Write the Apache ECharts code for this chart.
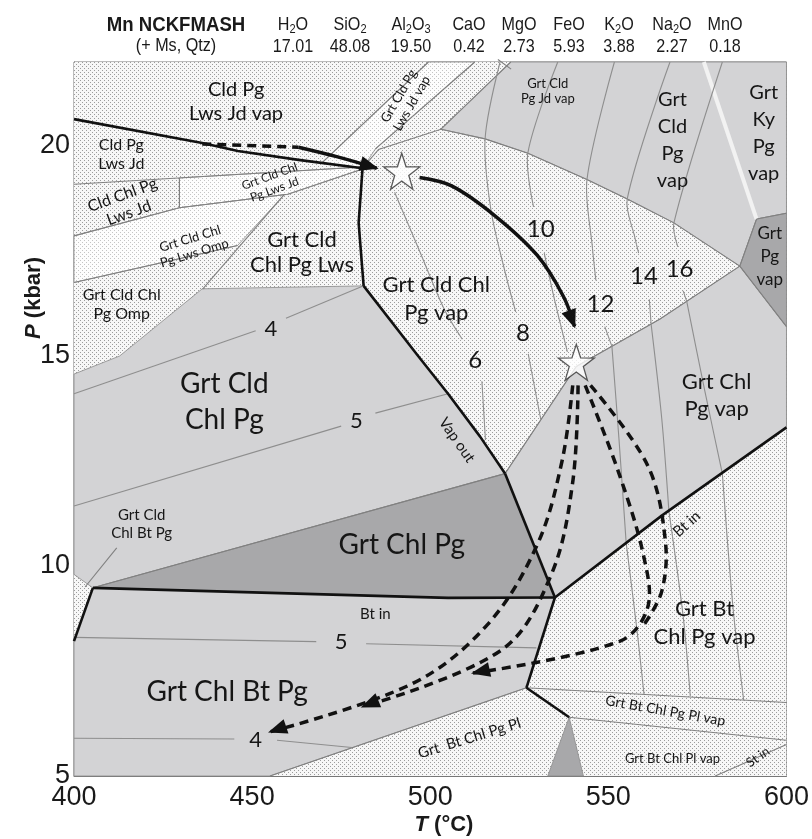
<!DOCTYPE html>
<html>
<head>
<meta charset="utf-8">
<script src="https://cdn.jsdelivr.net/npm/echarts/dist/echarts.min.js"></script>
<style>
  html, body { margin: 0; padding: 0; background: #fff; }
  #chart { width: 812px; height: 839px; }
</style>
</head>
<body>
<div id="chart"></div>
<script>
// bulk composition (wt%)
const oxides = ['H2O', 'SiO2', 'Al2O3', 'CaO', 'MgO', 'FeO', 'K2O', 'Na2O', 'MnO'];
const wtPct = ['17.01', '48.08', '19.50', '0.42', '2.73', '5.93', '3.88', '2.27', '0.18'];

// fields, vertices as [T (°C), P (kbar)]
const plotBox = [[400, 5], [600, 5], [600, 22], [400, 22]];
const bandLwsJdVap = [[469.6, 19.6], [499.5, 22], [512.5, 22], [484.6, 19.93], [481, 19.47]];
const bandGrtLwsJd = [[429.6, 19.24], [480.8, 19.5], [481, 19.45], [460, 18.85], [429.6, 18.53]];
const bandGrtLwsOmp = [[400, 17.86], [429.6, 18.53], [459, 18.84], [445.9, 17.63], [400, 16.75]];
const fGrtCldChlPg = [[400, 14.57], [412.8, 15.0], [436, 16.6], [481.3, 16.67], [496.6, 15.0], [505, 14.1],
  [514, 13.08], [521, 12.2], [405.3, 9.48], [400, 9.8]];
const fGrtChlBtPg = [[400, 5], [400, 8.21], [405.3, 9.48], [505, 9.24], [535, 9.25], [527, 7.1], [455, 5]];
const fGrtChlPgVap = [[521, 12.2], [541, 14.75], [564.5, 15.88], [586.9, 17.14], [600, 15.7], [600, 13.3],
  [565, 11.2], [535, 9.25]];
const fGrtCldPgVap = [[503, 20.4], [515.4, 20.17], [527.4, 19.83], [544, 19.2], [555.3, 18.74], [568.4, 18.17],
  [586.9, 17.14], [591.6, 18.26], [600, 18.4], [600, 22], [522.6, 22]];
const fGrtChlPg = [[405.3, 9.48], [521, 12.2], [535, 9.25], [505, 9.24]];
const fGrtPgVap = [[586.9, 17.14], [591.6, 18.26], [600, 18.4], [600, 15.7]];
const fWedge = [[533, 5], [539, 6.4], [543, 5]];

// thin reaction lines
const lnA = [[400, 19.09], [480.8, 19.5]];
const lnC = [[400, 17.86], [429.6, 18.53], [460, 18.85], [481, 19.45]];
const lnShort = [[429.6, 18.53], [429.6, 19.24]];
const lnD = [[400, 16.75], [445.9, 17.63]];
const lnE = [[436.1, 16.59], [459, 18.84]];
const lnBandL = [[469.6, 19.6], [499.5, 22]];
const lnBandR = [[484.6, 19.93], [512.5, 22]];
const lnStrip = [[503, 20.4], [522.6, 22]];
const lnArc = [[481, 19.47], [485.5, 19.92], [503, 20.4], [515.4, 20.17], [527.4, 19.83], [544, 19.2],
  [555.3, 18.74], [568.4, 18.17], [586.9, 17.14]];
const lnKyLow = [[591.6, 18.26], [586.9, 17.14]];
const lnChlVap = [[521, 12.2], [541, 14.75], [564.5, 15.88], [586.9, 17.14]];
const lnPgVap = [[586.9, 17.14], [600, 15.7]];
const lnPgVapTop = [[591.6, 18.26], [600, 18.4]];
const lnDarkTop = [[405.3, 9.48], [521, 12.2]];
const lnPlTop = [[455, 5], [527, 7.1]];
const lnPlVapTop = [[527, 7.1], [600, 6.75]];
const lnPlVapLow = [[539, 6.4], [600, 5.85]];
const lnStIn = [[580, 5], [600, 5.75]];
const lnLeader1 = [[412, 10.43], [403.1, 9.5]];
const lnLeader2 = [[522.7, 21.83], [519, 22.06]];
const kyStrip = [[576.8, 22], [591.6, 18.26]];

// isopleths
const isoLines = [
  [[400, 14.1], [451, 15.6]], [[459.5, 15.9], [481.3, 16.67]],
  [[400, 11.43], [475, 13.33]], [[484.6, 13.64], [505, 14.1]],
  [[400, 8.3], [468, 8.2]], [[482, 8.15], [529.8, 8.05]],
  [[400, 5.9], [445, 5.88]], [[457, 5.85], [478, 5.68]],
  [[490, 18.9], [497, 17.5], [504, 16.1], [509, 15.4]], [[514.5, 14.4], [515.5, 13.0]],
  [[519.6, 22], [515.4, 20.17], [517, 18.5], [521, 17], [524, 16.05]], [[527.5, 15.05], [531, 13.5]],
  [[535.8, 22], [527.4, 19.83], [529, 18.55]], [[532, 17.45], [535, 16.3], [538.5, 15.1]],
  [[551.7, 22], [544, 19.2], [545.5, 17.6], [546.5, 16.8]], [[549, 15.7], [551, 15.23]],
  [[567.3, 22], [555.3, 18.74], [557.5, 17.8], [558.5, 17.45]], [[561.5, 16.35], [562, 15.76]],
  [[582, 22], [568.4, 18.17], [569.5, 17.6]], [[571, 16.55], [572, 16.3]],
  [[551, 15.23], [553, 13], [555, 10.55]],
  [[562, 15.76], [565, 13.5], [567, 11.3]],
  [[572, 16.3], [577, 14.2], [582, 12.2]],
  [[555, 10.55], [558, 8.5], [560, 6.95]],
  [[567, 11.3], [571, 8.8], [573, 6.9]],
  [[582, 12.2], [585, 9], [588, 6.8]]
];

// bold field boundaries
const thickLines = [
  [[400, 20.64], [436, 20.07], [446, 19.88], [463, 19.67], [481, 19.47]],
  [[481, 19.47], [479.9, 18.17], [481.3, 16.67]],
  [[481.3, 16.67], [496.6, 15.0], [505, 14.1], [514, 13.08], [521, 12.2]],
  [[521, 12.2], [535, 9.25]],
  [[405.3, 9.48], [505, 9.24], [535, 9.25]],
  [[400, 8.21], [405.3, 9.48]],
  [[535, 9.25], [565, 11.2], [600, 13.3]],
  [[535, 9.25], [527, 7.1]],
  [[527, 7.1], [539, 6.4]]
];

// P-T path
const pathInDashed = [[436, 20.05], [463, 19.97]];
const pathInSolid = [[463, 19.97], [474, 19.74], [485, 19.47]];
const pathMain = [[497, 19.25], [506, 19.05], [518, 18.35], [530, 17.4], [537.5, 16.4], [540.5, 15.7]];
const pathOut = [
  [[540, 14.3], [537, 12.5], [530, 10.5], [516, 8.6], [495, 7.2], [455, 6.05]],
  [[541.5, 14.3], [540, 12], [534, 9.8], [520, 8.0], [481, 6.65]],
  [[543.5, 14.3], [553, 12.2], [560, 10.2], [561, 9.0], [553, 8.2], [512, 7.45]],
  [[545, 14.3], [561, 12.4], [566, 10.6], [565, 9.4], [560, 8.6]]
];
const stars = [[492, 19.4], [541, 14.85]];

// field names and where they sit
const names = [
  'Cld Pg\nLws Jd vap', 'Cld Pg\nLws Jd', 'Cld Chl Pg\nLws Jd', 'Grt Cld Chl\nPg Lws Jd',
  'Grt Cld Chl\nPg Lws Omp', 'Grt Cld\nChl Pg Lws', 'Grt Cld Chl\nPg Omp', 'Grt Cld Pg\nLws Jd vap',
  'Grt Cld\nPg Jd vap', 'Grt\nCld\nPg\nvap', 'Grt\nKy\nPg\nvap', 'Grt\nPg\nvap', 'Grt Cld Chl\nPg vap',
  '10', '12', '14', '16', '8', '6', '4', '5',
  'Grt Cld\nChl Pg', 'Vap out', 'Grt Cld\nChl Bt Pg', 'Grt Chl Pg', 'Bt in', 'Bt in',
  'Grt Chl\nPg vap', 'Grt Bt\nChl Pg vap', 'Grt Chl Bt Pg', '5', '4',
  'Grt  Bt Chl Pg Pl', 'Grt Bt Chl Pg Pl vap', 'Grt Bt Chl Pl vap', 'St in'
];
const nameAt = [
  [445.5, 21.05], [413.3, 19.8], [414.5, 18.62], [455.6, 19.12],
  [433.2, 17.62], [464, 17.46], [413.4, 16.24], [493, 21.1],
  [533, 21.3], [568, 20.15], [593.6, 20.31], [595.3, 17.38], [501.7, 16.35],
  [531, 18.02], [547.8, 16.24], [560, 16.9], [570, 17.07], [526, 15.55], [512.6, 14.9], [455.3, 15.64], [479.3, 13.45],
  [442.2, 13.9], [507.5, 13.0], [419, 11.0], [492, 10.5], [484.6, 8.86], [572, 11.0],
  [580.4, 14.05], [577, 8.65], [443, 7.0], [475, 8.2], [451, 5.85],
  [511, 5.9], [566, 6.55], [568, 5.4], [592, 5.45]
];
// [font size, rotation deg, line height]
const nameLook = [
  [20, 0, 24], [16, 0, 19], [16, 20, 19], [12, 20, 14],
  [13, 17, 15], [22, 0, 25], [16, 0, 19], [13, 60, 15],
  [13, 0, 15], [20, 0, 27], [20, 0, 27], [17, 0, 23], [22, 0, 28],
  [24, 0, 24], [24, 0, 24], [24, 0, 24], [24, 0, 24], [24, 0, 24], [24, 0, 24], [22, 0, 22], [22, 0, 22],
  [28, 0, 36], [15, -55, 15], [15, 0, 18], [28, 0, 28], [15, 0, 15], [15, 42, 15],
  [22, 0, 27], [22, 0, 28], [28, 0, 28], [22, 0, 22], [22, 0, 22],
  [15, 17, 15], [14, -10, 14], [13, 0, 13], [13, 35, 13]
];

function dots(bg, dot) {
  const c = document.createElement('canvas');
  c.width = 4; c.height = 4;
  const g = c.getContext('2d');
  g.fillStyle = bg; g.fillRect(0, 0, 4, 4);
  g.fillStyle = dot; g.fillRect(0, 0, 1, 1); g.fillRect(2, 2, 1, 1);
  return { image: c, repeat: 'repeat' };
}
const FILL = {
  dots: dots('#f7f7f7', '#9c9c9c'),
  light: dots('#fdfdfd', '#c4c4c4'),
  grey: '#d3d3d5',
  dark: '#a8a8aa'
};

const fields = [
  [plotBox, 'dots'], [bandLwsJdVap, 'light'], [bandGrtLwsJd, 'light'], [bandGrtLwsOmp, 'light'],
  [fGrtCldChlPg, 'grey'], [fGrtChlBtPg, 'grey'], [fGrtChlPgVap, 'grey'], [fGrtCldPgVap, 'grey'],
  [fGrtChlPg, 'dark'], [fGrtPgVap, 'dark'], [fWedge, 'dark']
];
const thinLines = [lnA, lnC, lnShort, lnD, lnE, lnBandL, lnBandR, lnStrip, lnArc, lnKyLow, lnChlVap,
  lnPgVap, lnPgVapTop, lnDarkTop, lnPlTop, lnPlVapTop, lnPlVapLow, lnStIn, lnLeader1, lnLeader2];

const chart = echarts.init(document.getElementById('chart'));

const px = (api, pts) => pts.map(p => api.coord(p));

function arrowHead(a, b, len, half) {
  const dx = b[0] - a[0], dy = b[1] - a[1];
  const d = Math.hypot(dx, dy) || 1;
  const ux = dx / d, uy = dy / d;
  const bx = b[0] - ux * len, by = b[1] - uy * len;
  return [[b[0] + ux * 2, b[1] + uy * 2], [bx - uy * half, by + ux * half], [bx + uy * half, by - ux * half]];
}

function lineSeries(list, style, smooth) {
  return {
    type: 'custom',
    coordinateSystem: 'cartesian2d',
    silent: true,
    data: list.map(l => l[0]),
    renderItem: (params, api) => ({
      type: 'polyline',
      shape: { points: px(api, list[params.dataIndex]), smooth: smooth || 0 },
      style: Object.assign({ fill: null }, style)
    })
  };
}

function arrowSeries(list, style) {
  return {
    type: 'custom',
    coordinateSystem: 'cartesian2d',
    silent: true,
    data: list.map(l => l[0]),
    renderItem: (params, api) => {
      const pts = px(api, list[params.dataIndex]);
      const n = pts.length;
      return {
        type: 'group',
        children: [
          { type: 'polyline', shape: { points: pts, smooth: 0.35 },
            style: Object.assign({ fill: null }, style) },
          { type: 'polygon', shape: { points: arrowHead(pts[n - 2], pts[n - 1], 17, 7.5) },
            style: { fill: '#111', stroke: null } }
        ]
      };
    }
  };
}

const option = {
  animation: false,
  grid: { left: 74, right: 22, top: 62, bottom: 63, show: true, borderColor: '#777', borderWidth: 1, backgroundColor: 'transparent' },
  xAxis: {
    type: 'value', min: 400, max: 600, interval: 10,
    axisLine: { lineStyle: { color: '#777', width: 1 } },
    axisTick: { inside: true, length: 5, lineStyle: { color: '#777' } },
    splitLine: { show: false },
    axisLabel: {
      interval: 0, margin: 8, color: '#1a1a1a', fontSize: 27, fontFamily: 'Liberation Sans',
      formatter: v => (v % 50 === 0 ? String(v) : '')
    }
  },
  yAxis: {
    type: 'value', min: 5, max: 22, interval: 1,
    axisLine: { lineStyle: { color: '#777', width: 1 } },
    axisTick: { inside: true, length: 5, lineStyle: { color: '#777' } },
    splitLine: { show: false },
    axisLabel: {
      interval: 0, margin: 4, color: '#1a1a1a', fontSize: 27, fontFamily: 'Liberation Sans',
      formatter: v => (v % 5 === 0 ? String(v) : '')
    }
  },
  graphic: [],
  series: [
    {
      type: 'custom',
      coordinateSystem: 'cartesian2d',
      silent: true,
      data: fields.map(f => f[0][0]),
      renderItem: (params, api) => {
        const f = fields[params.dataIndex];
        return {
          type: 'polygon',
          shape: { points: px(api, f[0]) },
          style: { fill: FILL[f[1]], stroke: f[1] === 'dots' ? null : '#8a8a8a', lineWidth: f[1] === 'dots' ? 0 : 0.8 }
        };
      }
    },
    lineSeries([kyStrip], { stroke: '#f2f2f2', lineWidth: 4 }),
    lineSeries(thinLines, { stroke: '#808080', lineWidth: 1.1 }),
    lineSeries(isoLines, { stroke: '#8e8e8e', lineWidth: 1.1 }, 0.3),
    lineSeries(thickLines, { stroke: '#111', lineWidth: 2.6, lineJoin: 'round' }),
    lineSeries([pathInDashed], { stroke: '#111', lineWidth: 3.5, lineDash: [9, 6] }),
    arrowSeries([pathInSolid, pathMain], { stroke: '#111', lineWidth: 3.5 }),
    arrowSeries(pathOut.slice(0, 3), { stroke: '#111', lineWidth: 3.5, lineDash: [9, 6] }),
    lineSeries([pathOut[3]], { stroke: '#111', lineWidth: 3.5, lineDash: [9, 6] }, 0.35),
    {
      type: 'scatter',
      silent: true,
      data: stars,
      symbol: 'path://M12,0 L14.9,8.6 L24,8.7 L16.7,14.1 L19.4,22.8 L12,17.6 L4.6,22.8 L7.3,14.1 L0,8.7 L9.1,8.6 Z',
      symbolSize: 36,
      itemStyle: { color: '#fff', borderColor: '#333', borderWidth: 1.3 },
      z: 5
    },
    {
      type: 'custom',
      coordinateSystem: 'cartesian2d',
      silent: true,
      z: 6,
      data: nameAt,
      renderItem: (params, api) => {
        const i = params.dataIndex;
        const p = api.coord(nameAt[i]);
        const look = nameLook[i];
        return {
          type: 'text',
          x: p[0], y: p[1],
          rotation: look[1] * Math.PI / 180,
          style: {
            text: names[i], fill: '#161616', fontSize: look[0], fontFamily: 'Lato',
            lineHeight: look[2], align: 'center', verticalAlign: 'middle'
          }
        };
      }
    }
  ]
};

// header: system and composition
const headX = [293, 350, 411, 469, 519, 569, 619, 672, 725];
const headFont = 'Liberation Sans';
option.graphic.push({
  type: 'text', x: 176, y: 25, scaleX: 0.93,
  style: { text: 'Mn NCKFMASH', fontSize: 20, fontWeight: 'bold', fontFamily: headFont, fill: '#1a1a1a', align: 'center', verticalAlign: 'middle' }
});
option.graphic.push({
  type: 'text', x: 176, y: 46, scaleX: 0.85,
  style: { text: '(+ Ms, Qtz)', fontSize: 19, fontFamily: headFont, fill: '#1a1a1a', align: 'center', verticalAlign: 'middle' }
});
oxides.forEach((ox, i) => {
  option.graphic.push({
    type: 'text', x: headX[i], y: 25, scaleX: 0.85,
    style: {
      text: ox.replace(/(\d)/g, '{s|$1}'), fontSize: 19, lineHeight: 22, fontFamily: headFont, fill: '#1a1a1a',
      align: 'center', verticalAlign: 'middle',
      rich: { s: { fontSize: 13, lineHeight: 9, verticalAlign: 'bottom', fontFamily: headFont, fill: '#1a1a1a' } }
    }
  });
  option.graphic.push({
    type: 'text', x: headX[i], y: 47, scaleX: 0.85,
    style: { text: wtPct[i], fontSize: 19, fontFamily: headFont, fill: '#1a1a1a', align: 'center', verticalAlign: 'middle' }
  });
});
// axis titles
option.graphic.push({
  type: 'text', x: 444, y: 825,
  style: {
    text: '{i|T} (°C)', fontSize: 22, fontWeight: 'bold', fontFamily: headFont, fill: '#1a1a1a', align: 'center', verticalAlign: 'middle',
    rich: { i: { fontSize: 22, fontWeight: 'bold', fontStyle: 'italic', fontFamily: headFont, fill: '#1a1a1a' } }
  }
});
option.graphic.push({
  type: 'text', x: 34, y: 298, rotation: Math.PI / 2,
  style: {
    text: '{i|P} (kbar)', fontSize: 22, fontWeight: 'bold', fontFamily: headFont, fill: '#1a1a1a', align: 'center', verticalAlign: 'middle',
    rich: { i: { fontSize: 22, fontWeight: 'bold', fontStyle: 'italic', fontFamily: headFont, fill: '#1a1a1a' } }
  }
});

chart.setOption(option);
</script>
</body>
</html>
